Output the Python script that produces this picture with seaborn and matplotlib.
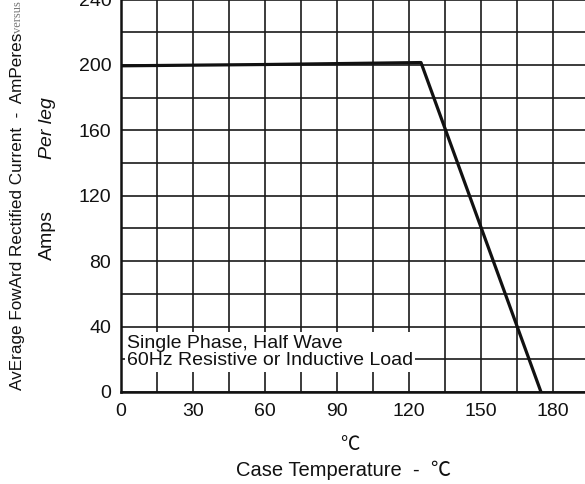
import matplotlib
matplotlib.use("Agg")
import matplotlib.pyplot as plt
import seaborn as sns
import pandas as pd
from matplotlib.ticker import MultipleLocator

# derating curve
case_temp = [0, 60, 125, 175]
current = [199.5, 200.3, 201.5, 0]
x_ticks = [0, 30, 60, 90, 120, 150, 180]
y_ticks = [0, 40, 80, 120, 160, 200, 240]

df = pd.DataFrame({'temp': case_temp, 'amps': current})

sns.set_theme(style="white")
plt.rcParams['font.family'] = ['Liberation Sans', 'Noto Sans CJK SC', 'DejaVu Sans']

fig = plt.figure(figsize=(5.85, 4.84), dpi=100)
# axes run past the top and right edge, the source picture is cropped
ax = fig.add_axes([121 / 585, 92 / 484, 195 * 2.4 / 585, 250 * 65.4 / 40 / 484])

sns.lineplot(data=df, x='temp', y='amps', ax=ax, color='#111111', lw=2.3, zorder=5)

ax.set_xlim(0, 195)
ax.set_ylim(0, 250)
ax.set_xticks(x_ticks)
ax.set_yticks(y_ticks)
ax.xaxis.set_minor_locator(MultipleLocator(15))
ax.yaxis.set_minor_locator(MultipleLocator(20))
ax.grid(True, which='both', color='#1a1a1a', lw=1.2)
ax.set_axisbelow(True)
ax.tick_params(axis='both', which='both', length=0, labelsize=14, colors='#111111')
ax.tick_params(axis='x', pad=8)
ax.tick_params(axis='y', pad=7)
for side in ['left', 'bottom']:
    ax.spines[side].set_color('#111111')
    ax.spines[side].set_linewidth(1.8)
for side in ['top', 'right']:
    ax.spines[side].set_visible(False)
ax.set_xlabel('')
ax.set_ylabel('')

ax.text(2.5, 24.5, 'Single Phase, Half Wave\n60Hz Resistive or Inductive Load',
        fontsize=14, va='center', ha='left', linespacing=1.05, color='#111111', zorder=4,
        bbox=dict(boxstyle='square,pad=0.12', facecolor='white', edgecolor='none'))

# axis titles
fig.text(350 / 585, 1 - 445 / 484, '℃', ha='center', va='center', fontsize=14,
         family=['Noto Sans CJK SC', 'DejaVu Sans'], color='#111111')
fig.text(343 / 585, 1 - 470 / 484, 'Case Temperature  -  ℃', ha='center', va='center',
         fontsize=14.5, color='#111111')

fig.text(18 / 585, 1 - 211 / 484, 'AvErage FowArd Rectified Current  -  AmPeres',
         rotation=90, ha='center', va='center', fontsize=12.3, color='#111111')
fig.text(18 / 585, 1 - 17 / 484, 'versus', rotation=90, ha='center', va='center',
         fontsize=9, color='#777777', family=['Liberation Serif'])
fig.text(47 / 585, 1 - 128 / 484, 'Per leg', rotation=90, ha='center', va='center',
         fontsize=14, style='italic', color='#111111')
fig.text(47 / 585, 1 - 235 / 484, 'Amps', rotation=90, ha='center', va='center',
         fontsize=14, color='#111111')

fig.savefig('out.png', dpi=100)
